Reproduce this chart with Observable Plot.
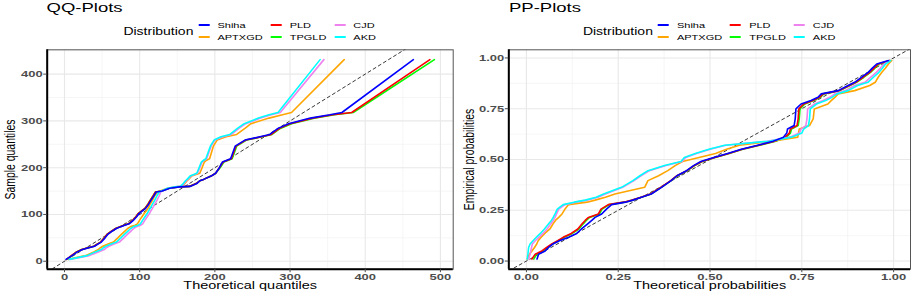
<!DOCTYPE html>
<html><head><meta charset="utf-8">
<script src="https://cdn.jsdelivr.net/npm/d3@7"></script>
<script src="https://cdn.jsdelivr.net/npm/@observablehq/plot@0.6"></script>
<style>
html,body{margin:0;padding:0;background:#fff;}
body{font-family:"Liberation Sans",Arial,sans-serif;color:#000;}
#wrap{position:relative;width:915px;height:294px;overflow:hidden;display:flex;}
.col{position:relative;flex:none;}
.hdr{position:relative;height:46px;}
.ttl{position:absolute;top:1px;font-size:18.5px;line-height:18.5px;transform:scaleY(0.72);transform-origin:0 0;white-space:nowrap;}
.leg{position:absolute;top:19px;height:24px;display:flex;align-items:center;transform:translateX(-50%);}
.legt{font-size:14px;line-height:14px;display:inline-block;transform:scaleY(0.72);margin-right:5px;white-space:nowrap;}
.grid{display:grid;grid-auto-flow:column;grid-template-rows:12px 12px;column-gap:8px;}
.item{display:flex;align-items:center;height:12px;}
.item i{display:block;width:11px;height:1.6px;margin-right:8px;}
.item span{font-size:11px;line-height:11px;display:inline-block;transform:scaleY(0.72);white-space:nowrap;}
svg{display:block;}
</style></head><body>
<div id="wrap"><div class="col" id="qq" style="width:457px"></div><div class="col" id="pp" style="width:458px"></div></div>
<script>
// ---------- data ----------
const distributions = ["Shiha", "APTXGD", "PLD", "TPGLD", "CJD", "AKD"];
const colors = ["#0000ff", "#ffa500", "#ff0000", "#00ff00", "#ee82ee", "#00ffff"];
const drawOrder = ["TPGLD", "PLD", "APTXGD", "CJD", "AKD", "Shiha"];

// QQ plot: sample quantiles (shared) and theoretical quantiles per distribution
const sampleQuantiles = [4,12,20,25,28,30,32,37,41,50,58,64,70,74,77,80,88,95,102,108,113,122,130,140,148,150,156,159,160,166,172,175,182,188,200,212,216,219,246,259,266,271,284,294,306,313,318,431];
const qqShiha  = [2,10,17,24,30,35,40,45,49,54,58,63,69,75,80,86,92,96,99,104,108,112,115,119,122,130,140,153,167,176,180,185,195,201,206,210,216,221,227,240,260,273,284,298,327,353,369,464];
const qqPLD    = [3,9,16,23,29,34,39,44,48,53,57,62,68,74,79,85,91,95,98,103,107,111,114,118,121,129,139,152,166,175,180,185,195,201,206,211,217,222,228,241,262,275,286,300,330,357,382,486];
const qqTPGLD  = [3,10,16,23,29,34,39,44,48,53,57,62,68,74,79,85,91,95,98,103,107,111,114,118,121,129,139,152,166,175,180,185,195,201,207,212,218,223,229,242,263,276,287,302,332,359,384,492];
const qqAPTXGD = [5,28,39,45,47,49,51,58,65,71,76,80,84,88,94,97,100,103,106,109,111,114,117,120,124,127,137,148,155,160,163,165,169,180,183,186,189,193,198,203,215,229,240,248,272,290,302,372];
const qqCJD    = [7,33,45,53,55,57,59,66,73,79,84,88,92,96,101,104,107,110,113,115,117,120,123,126,128,130,138,148,155,159,162,164,168,177,180,183,186,189,195,200,211,222,232,241,261,275,287,345];
const qqAKD    = [6,30,41,49,51,53,55,62,69,75,80,84,88,92,98,101,104,107,110,112,114,117,120,123,126,129,137,147,154,158,161,163,167,176,179,182,185,188,194,199,208,220,230,239,258,272,284,340];

// PP plot: empirical probabilities (shared) and theoretical probabilities per distribution
const empiricalProbs = [0.010,0.034,0.050,0.067,0.084,0.100,0.117,0.136,0.158,0.182,0.200,0.215,0.232,0.256,0.278,0.290,0.300,0.314,0.330,0.363,0.396,0.420,0.445,0.470,0.490,0.510,0.530,0.550,0.570,0.590,0.610,0.630,0.650,0.667,0.700,0.749,0.773,0.790,0.806,0.823,0.839,0.864,0.880,0.905,0.929,0.950,0.970,0.987];
const ppShiha  = [0.029,0.033,0.051,0.060,0.072,0.090,0.115,0.137,0.150,0.166,0.178,0.187,0.205,0.218,0.232,0.270,0.290,0.313,0.340,0.368,0.394,0.410,0.436,0.455,0.475,0.510,0.548,0.585,0.630,0.672,0.700,0.709,0.711,0.729,0.732,0.734,0.748,0.775,0.794,0.803,0.849,0.876,0.894,0.913,0.931,0.942,0.954,0.986];
const ppPLD    = [0.015,0.024,0.042,0.055,0.069,0.085,0.100,0.122,0.140,0.151,0.160,0.169,0.196,0.203,0.223,0.265,0.288,0.312,0.338,0.366,0.393,0.410,0.437,0.457,0.478,0.513,0.551,0.588,0.633,0.676,0.705,0.716,0.719,0.737,0.740,0.742,0.755,0.780,0.798,0.808,0.852,0.879,0.897,0.917,0.935,0.947,0.958,0.990];
const ppTPGLD  = [0.020,0.028,0.046,0.058,0.071,0.087,0.103,0.125,0.143,0.154,0.163,0.172,0.199,0.206,0.226,0.267,0.289,0.313,0.339,0.367,0.394,0.411,0.438,0.458,0.479,0.514,0.552,0.589,0.635,0.679,0.708,0.719,0.722,0.740,0.743,0.745,0.758,0.782,0.800,0.810,0.854,0.881,0.899,0.919,0.937,0.949,0.960,0.991];
const ppAPTXGD = [0.002,0.008,0.015,0.022,0.028,0.032,0.040,0.050,0.064,0.072,0.079,0.088,0.097,0.105,0.115,0.165,0.187,0.215,0.241,0.322,0.331,0.360,0.385,0.405,0.425,0.470,0.515,0.545,0.580,0.670,0.739,0.741,0.743,0.771,0.781,0.784,0.821,0.830,0.840,0.849,0.894,0.935,0.950,0.958,0.968,0.978,0.986,0.995];
const ppCJD    = [0.006,0.010,0.012,0.014,0.016,0.024,0.034,0.045,0.056,0.066,0.073,0.078,0.082,0.088,0.105,0.135,0.165,0.195,0.215,0.262,0.293,0.312,0.335,0.380,0.424,0.434,0.463,0.500,0.543,0.655,0.718,0.743,0.748,0.761,0.764,0.766,0.784,0.808,0.826,0.840,0.868,0.893,0.922,0.938,0.953,0.964,0.974,0.990];
const ppAKD    = [0.002,0.004,0.005,0.006,0.010,0.018,0.027,0.038,0.049,0.060,0.068,0.073,0.078,0.084,0.100,0.130,0.160,0.190,0.210,0.259,0.290,0.309,0.331,0.376,0.421,0.430,0.460,0.497,0.540,0.660,0.722,0.750,0.755,0.768,0.771,0.773,0.790,0.815,0.832,0.846,0.876,0.902,0.930,0.945,0.960,0.970,0.978,0.992];

// ticks
const qqXTicks = [0, 100, 200, 300, 400, 500];
const qqXMinor = [50, 150, 250, 350, 450];
const qqYTicks = [0, 100, 200, 300, 400];
const qqYMinor = [50, 150, 250, 350, 450];
const ppTicks = [0, 0.25, 0.5, 0.75, 1];
const ppMinor = [0.125, 0.375, 0.625, 0.875];

// ---------- build ----------
const SQ = 0.72;
const FONT = "Liberation Sans, Arial, sans-serif";

function rowsFrom(byName, ys) {
  const rows = [];
  distributions.forEach(name => {
    byName[name].forEach((v, i) => rows.push({dist: name, x: v, y: ys[i]}));
  });
  return rows;
}
const qqRows = rowsFrom({Shiha: qqShiha, APTXGD: qqAPTXGD, PLD: qqPLD, TPGLD: qqTPGLD, CJD: qqCJD, AKD: qqAKD}, sampleQuantiles);
const ppRows = rowsFrom({Shiha: ppShiha, APTXGD: ppAPTXGD, PLD: ppPLD, TPGLD: ppTPGLD, CJD: ppCJD, AKD: ppAKD}, empiricalProbs);

function panel(o) {
  const svg = Plot.plot({
    width: o.width, height: 248,
    marginTop: 3.3, marginBottom: 25.3, marginLeft: o.marginLeft, marginRight: o.marginRight,
    style: {fontFamily: FONT, background: "white", color: "black", overflow: "visible"},
    x: {domain: o.xDomain},
    y: {domain: o.yDomain},
    color: {domain: distributions, range: colors},
    marks: [
      Plot.gridX(o.xMinor, {stroke: "#f0f0f0", strokeOpacity: 1, strokeWidth: 0.6}),
      Plot.gridY(o.yMinor, {stroke: "#f0f0f0", strokeOpacity: 1, strokeWidth: 0.6}),
      Plot.gridX(o.xTicks, {stroke: "#e8e8e8", strokeOpacity: 1, strokeWidth: 1.1}),
      Plot.gridY(o.yTicks, {stroke: "#e8e8e8", strokeOpacity: 1, strokeWidth: 1.1}),
      Plot.line(o.xDomain, {x: d => d, y: d => d, stroke: "#222", strokeWidth: 0.9, strokeDasharray: "3,3", clip: true}),
      ...drawOrder.map(name => Plot.line(o.rows.filter(r => r.dist === name), {x: "x", y: "y", stroke: "dist", strokeWidth: 1.6})),
      Plot.frame({stroke: "#555", strokeWidth: 1}),
      Plot.ruleX([o.xDomain[0]], {stroke: "black", strokeWidth: 2}),
      Plot.ruleY([o.yDomain[0]], {stroke: "black", strokeWidth: 2}),
      Plot.axisX(o.xTicks, {tickSize: 3.5, tickPadding: 0.5, tickFormat: o.fmt, fontSize: 13, fontWeight: "bold", color: "#4d4d4d", label: null}),
      Plot.axisY(o.yTicks, {tickSize: 3.5, tickPadding: 1, tickFormat: o.fmt, fontSize: 13, fontWeight: "bold", color: "#4d4d4d", label: null}),
      Plot.text([o.xLabel], {frameAnchor: "bottom", textAnchor: "middle", lineAnchor: "top", dy: 12.5, fontSize: 14.5, fill: "black"}),
      Plot.text([o.yLabel], {frameAnchor: "left", textAnchor: "middle", rotate: -90, lineAnchor: "top", dx: o.yLabelDx, fontSize: 14.5, fill: "black"})
    ]
  });
  svg.querySelectorAll("text").forEach(t => {
    const tr = t.getAttribute("transform") || "";
    t.setAttribute("transform", tr + (/rotate\(-90\)/.test(tr) ? ` scale(${SQ},1)` : ` scale(1,${SQ})`));
  });
  return svg;
}

function header(title, titleX, centerX) {
  const h = document.createElement("div");
  h.className = "hdr";
  const items = distributions.map((d, i) =>
    `<div class="item"><i style="background:${colors[i]}"></i><span>${d}</span></div>`).join("");
  h.innerHTML = `<span class="ttl" style="left:${titleX}px">${title}</span>` +
    `<div class="leg" style="left:${centerX}px"><span class="legt">Distribution</span><div class="grid">${items}</div></div>`;
  return h;
}

const qqEl = document.getElementById("qq");
qqEl.appendChild(header("QQ-Plots", 46.5, 249.7));
qqEl.appendChild(panel({
  rows: qqRows, width: 457, marginLeft: 46.7, marginRight: 4.3,
  xDomain: [-23, 517], yDomain: [-17, 452],
  xTicks: qqXTicks, xMinor: qqXMinor, yTicks: qqYTicks, yMinor: qqYMinor,
  fmt: d3.format("d"), xLabel: "Theoretical quantiles", yLabel: "Sample quantiles", yLabelDx: -42.5
}));

const ppEl = document.getElementById("pp");
ppEl.appendChild(header("PP-Plots", 52, 252.2));
ppEl.appendChild(panel({
  rows: ppRows, width: 458, marginLeft: 51.3, marginRight: 5,
  xDomain: [-0.048, 1.046], yDomain: [-0.04, 1.04],
  xTicks: ppTicks, xMinor: ppMinor, yTicks: ppTicks, yMinor: ppMinor,
  fmt: d3.format(".2f"), xLabel: "Theoretical probabilities", yLabel: "Empirical probabilities", yLabelDx: -45
}));
</script>
</body></html>
